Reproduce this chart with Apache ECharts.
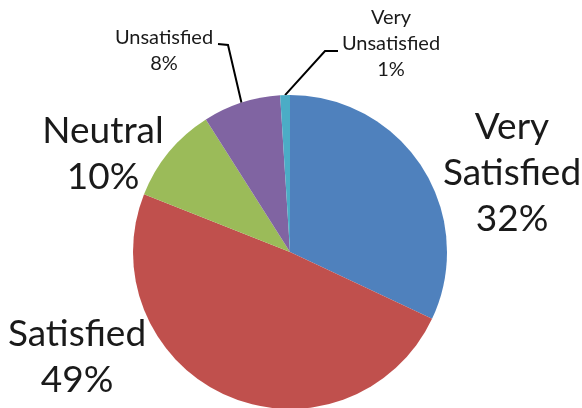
<!DOCTYPE html>
<html><head><meta charset="utf-8">
<script src="https://cdn.jsdelivr.net/npm/echarts@6/dist/echarts.min.js"></script>
<style>html,body{margin:0;padding:0;background:#fff}#c{width:582px;height:408px}</style>
</head><body><div id="c"></div>
<script>
const categories = ['Very Satisfied', 'Satisfied', 'Neutral', 'Unsatisfied', 'Very Unsatisfied'];
const values = [32, 49, 10, 8, 1];
const colors = ['#4F81BD', '#C0504D', '#9BBB59', '#8064A2', '#4BACC6'];
const labelText = ['Very\nSatisfied', 'Satisfied', 'Neutral', 'Unsatisfied', 'Very\nUnsatisfied'];
const bigLabel = [true, true, true, false, false];
// label anchor (center) positions and leader elbow points
const labelAnchors = [[512, 173], [77, 357], [103, 154], [164, 51], [391, 44]];
const leaderElbows = [null, null, null, [[228, 45], [218, 44]], [[325, 51], [338, 51]]];

const FONT = 'Lato';
const chart = echarts.init(document.getElementById('c'), null, {renderer: 'canvas'});
chart.setOption({
  animation: false,
  series: [{
    type: 'pie',
    center: [290, 252],
    radius: 157,
    startAngle: 90,
    clockwise: true,
    data: categories.map((c, i) => ({
      name: c,
      value: values[i],
      itemStyle: {color: colors[i]},
      label: {
        formatter: labelText[i] + '\n{d}%',
        fontSize: bigLabel[i] ? 37 : 20,
        lineHeight: bigLabel[i] ? 46 : 26
      },
      labelLine: {show: !bigLabel[i]}
    })),
    label: {
      show: true,
      position: 'outside',
      color: '#1a1a1a',
      fontFamily: FONT,
      align: 'center',
      overflow: 'none',
      width: 300,
      alignTo: 'none'
    },
    labelLine: {
      show: true,
      lineStyle: {color: '#000', width: 2},
      length: 10, length2: 10
    },
    labelLayout: function (params) {
      const i = params.dataIndex;
      const a = labelAnchors[i];
      const res = {x: a[0], y: a[1], align: 'center', verticalAlign: 'middle'};
      if (leaderElbows[i] && params.labelLinePoints) {
        res.labelLinePoints = [params.labelLinePoints[0]].concat(leaderElbows[i]);
      }
      return res;
    }
  }]
});
</script></body></html>
